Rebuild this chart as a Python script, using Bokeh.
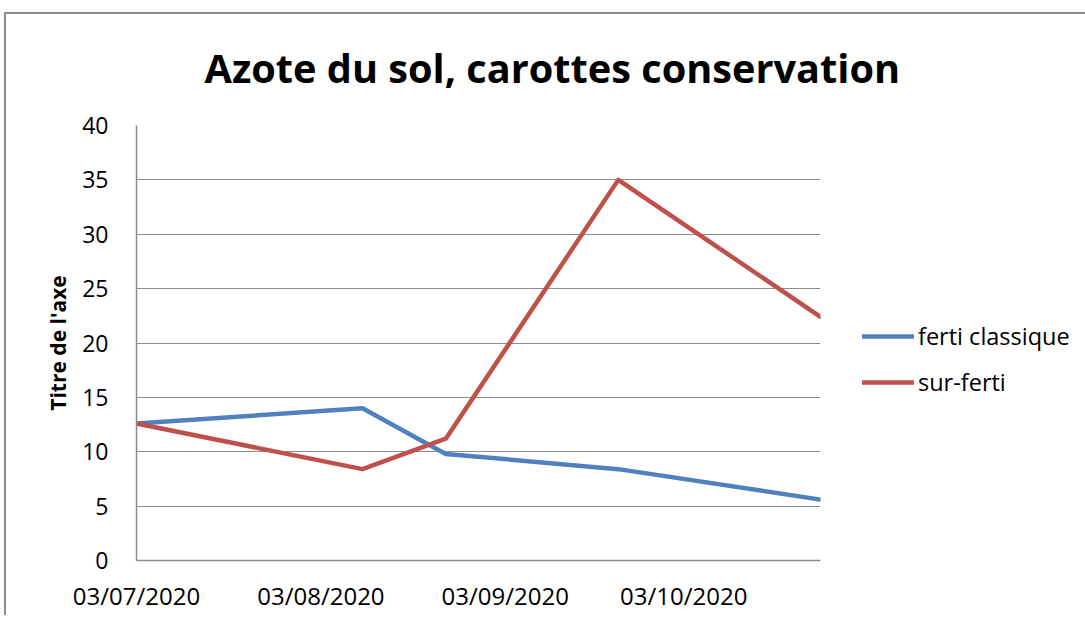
from datetime import datetime
from bokeh.plotting import figure
from bokeh.models import (ColumnDataSource, Legend, LegendItem, FixedTicker,
                          DatetimeTickFormatter, Range1d)
from bokeh.embed import file_html
from bokeh.resources import INLINE

# ---- data ----
dates = ["2020-07-03", "2020-08-10", "2020-08-24", "2020-09-22", "2020-10-26"]
ferti_classique = [12.6, 14.0, 9.8, 8.4, 5.6]
sur_ferti = [12.6, 8.4, 11.2, 35.0, 22.4]
tick_dates = ["2020-07-03", "2020-08-03", "2020-09-03", "2020-10-03"]
y_ticks = [0, 5, 10, 15, 20, 25, 30, 35, 40]

x = [datetime.strptime(d, "%Y-%m-%d") for d in dates]
ticks_ms = [datetime.strptime(d, "%Y-%m-%d").timestamp() * 1000 for d in tick_dates]

src = ColumnDataSource(dict(x=x, a=ferti_classique, b=sur_ferti))

FONT = "Open Sans"
GRID = "#8c8c8c"

p = figure(frame_width=684, frame_height=435, x_axis_type="datetime",
           output_backend="svg", toolbar_location=None,
           x_range=Range1d(x[0], x[-1]), y_range=Range1d(0, 40),
           min_border_left=136, min_border_right=0,
           min_border_top=125, min_border_bottom=55)

p.title.text = "Azote du sol, carottes conservation"
p.title.text_font = FONT
p.title.text_font_size = "39.7px"
p.title.text_font_style = "bold"
p.title.text_color = "black"
p.title.align = "left"
p.title.offset = 68
p.title.standoff = 61

p.outline_line_color = None
p.background_fill_color = "white"
p.border_fill_color = None

# grid
p.xgrid.grid_line_color = None
p.ygrid.grid_line_color = GRID
p.ygrid.grid_line_width = 1

# axes
p.yaxis.ticker = FixedTicker(ticks=y_ticks)
p.xaxis.ticker = FixedTicker(ticks=ticks_ms)
p.xaxis.formatter = DatetimeTickFormatter(days="%d/%m/%Y", months="%d/%m/%Y",
                                          years="%d/%m/%Y")
for ax in (p.xaxis, p.yaxis):
    ax.axis_line_color = GRID
    ax.axis_line_width = 1.5
    ax.major_tick_line_color = None
    ax.minor_tick_line_color = None
    ax.major_label_text_font = FONT
    ax.major_label_text_font_size = "23px"
    ax.major_label_text_color = "black"
p.xaxis.major_label_text_font_size = "24px"

p.yaxis.major_label_standoff = 22
p.xaxis.major_label_standoff = 12
p.yaxis.axis_label = "Titre de l'axe"
p.yaxis.axis_label_text_font = FONT
p.yaxis.axis_label_text_font_size = "21px"
p.yaxis.axis_label_text_font_style = "bold"
p.yaxis.axis_label_text_color = "black"
p.yaxis.axis_label_standoff = 7

r1 = p.line("x", "a", source=src, line_color="#4F81BD", line_width=4.5,
            line_join="round", line_cap="round")
r2 = p.line("x", "b", source=src, line_color="#C0504D", line_width=4.5,
            line_join="round", line_cap="round")

legend = Legend(items=[LegendItem(label="ferti classique", renderers=[r1]),
                       LegendItem(label="sur-ferti", renderers=[r2])],
                location=(42, 162), orientation="vertical")
legend.border_line_color = None
legend.background_fill_alpha = 0
legend.padding = 0
legend.margin = 0
legend.spacing = 14
legend.glyph_width = 52
legend.glyph_height = 20
legend.label_height = 20
legend.label_standoff = 4
legend.label_text_font = FONT
legend.label_text_font_size = "23.5px"
legend.label_text_color = "black"
p.add_layout(legend, "right")

# outer chart-area border (top and left edges), drawn behind the canvas
p.styles = {
    "background-color": "white",
    "background-image": "linear-gradient(#8c8c8c, #8c8c8c), linear-gradient(#8c8c8c, #8c8c8c)",
    "background-size": "100% 2px, 2px 100%",
    "background-position": "4px 12px, 4px 12px",
    "background-repeat": "no-repeat",
}

open("out.html", "w").write(file_html(p, INLINE))
